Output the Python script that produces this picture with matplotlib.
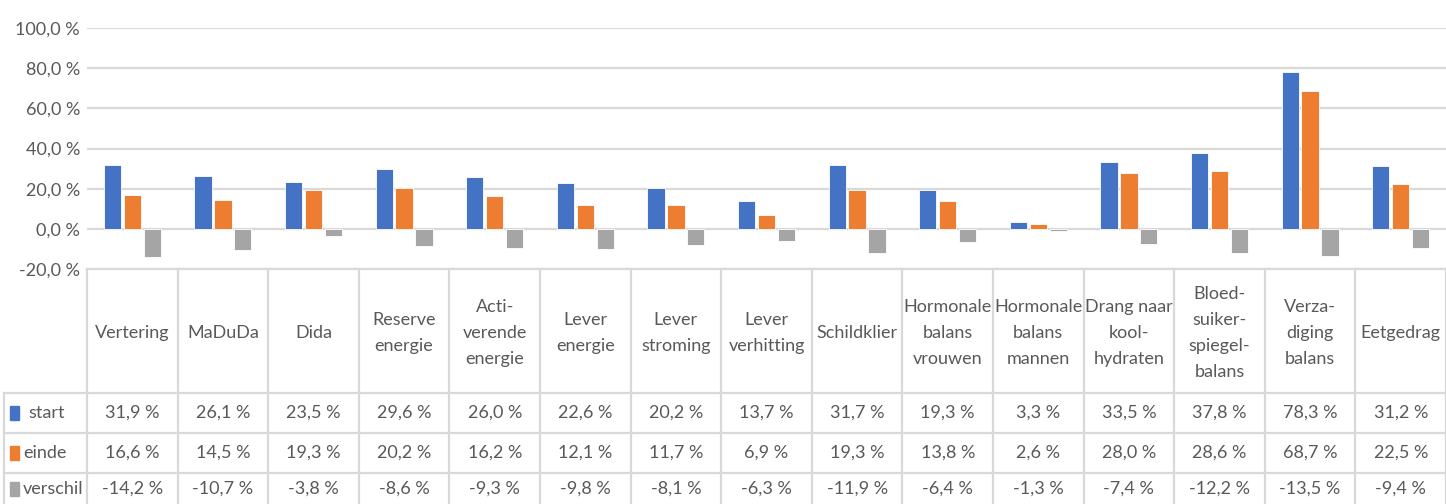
import numpy as np
import matplotlib.pyplot as plt
from matplotlib.patches import Rectangle

plt.rcParams['font.family'] = ['Lato', 'DejaVu Sans']

categories = ['Vertering', 'MaDuDa', 'Dida', 'Reserve\nenergie',
              'Acti-\nverende\nenergie', 'Lever\nenergie', 'Lever\nstroming',
              'Lever\nverhitting', 'Schildklier', 'Hormonale\nbalans\nvrouwen',
              'Hormonale\nbalans\nmannen', 'Drang naar\nkool-\nhydraten',
              'Bloed-\nsuiker-\nspiegel-\nbalans', 'Verza-\ndiging\nbalans',
              'Eetgedrag']
start = [31.9, 26.1, 23.5, 29.6, 26.0, 22.6, 20.2, 13.7, 31.7, 19.3, 3.3, 33.5, 37.8, 78.3, 31.2]
einde = [16.6, 14.5, 19.3, 20.2, 16.2, 12.1, 11.7, 6.9, 19.3, 13.8, 2.6, 28.0, 28.6, 68.7, 22.5]
verschil = [-14.2, -10.7, -3.8, -8.6, -9.3, -9.8, -8.1, -6.3, -11.9, -6.4, -1.3, -7.4, -12.2, -13.5, -9.4]
series_names = ['start', 'einde', 'verschil']
colors = ['#4472C4', '#ED7D31', '#A5A5A5']
yticks = [-20, 0, 20, 40, 60, 80, 100]

W, H = 1446, 504
text_col = '#595959'
line_col = '#D9D9D9'
fs = 13

fig = plt.figure(figsize=(W / 100, H / 100), dpi=100)

# bar chart part
x0, x1 = 87, 1446
ytop, ybot = 28, 269
ax = fig.add_axes([x0 / W, (H - ybot) / H, (x1 - x0) / W, (ybot - ytop) / H])
n = len(categories)
x = np.arange(n) + 0.5
width = 0.19
offs = [-0.22, 0, 0.22]
for vals, c, o in zip([start, einde, verschil], colors, offs):
    ax.bar(x + o, vals, width=width, color=c, edgecolor='white', linewidth=0.6, zorder=3)
ax.set_xlim(0, n)
ax.set_ylim(-20, 100)
ax.set_yticks(yticks)
ax.set_yticklabels([f"{t:.1f} %".replace('.', ',') for t in yticks], color=text_col, fontsize=fs)
ax.tick_params(axis='y', length=0, pad=5)
ax.set_xticks([])
ax.grid(axis='y', color=line_col, linewidth=1.6, zorder=0)
for s in ax.spines.values():
    s.set_visible(False)

# data table part (y in pixel rows of the image)
tax = fig.add_axes([x0 / W, 0, (x1 - x0) / W, (H - ybot) / H])
tax.set_xlim(0, n)
tax.set_ylim(H, ybot)
tax.axis('off')
row_edges = [269, 393, 433, 473, 504]
lw = 1.6
colw = (x1 - x0) / n
left_x = -(x0 - 4) / colw
# horizontal lines
tax.plot([0, n], [269, 269], color=line_col, lw=lw, clip_on=False)
for yy in row_edges[1:4]:
    tax.plot([left_x, n], [yy, yy], color=line_col, lw=lw, clip_on=False)
# vertical lines
for i in range(n + 1):
    tax.plot([i, i], [269, H], color=line_col, lw=lw, clip_on=False)
tax.plot([left_x, left_x], [393, H], color=line_col, lw=lw, clip_on=False)

# header labels
for i, lab in enumerate(categories):
    tax.text(i + 0.5, 333, lab, ha='center', va='center', color=text_col,
             fontsize=fs, linespacing=1.75)

# value rows
for r, (vals, name, c) in enumerate(zip([start, einde, verschil], series_names, colors)):
    yc = (row_edges[r + 1] + row_edges[r + 2]) / 2
    for i, v in enumerate(vals):
        tax.text(i + 0.5, yc, f"{v:.1f} %".replace('.', ','), ha='center', va='center',
                 color=text_col, fontsize=fs)
    tax.add_patch(Rectangle((left_x + 6 / colw, yc - 7), 9 / colw, 14, color=c, clip_on=False))
    tax.text(left_x + (24 if r == 0 else 19) / colw, yc, name, ha='left', va='center',
             color=text_col, fontsize=fs, clip_on=False)

fig.savefig('out.png', dpi=100)
